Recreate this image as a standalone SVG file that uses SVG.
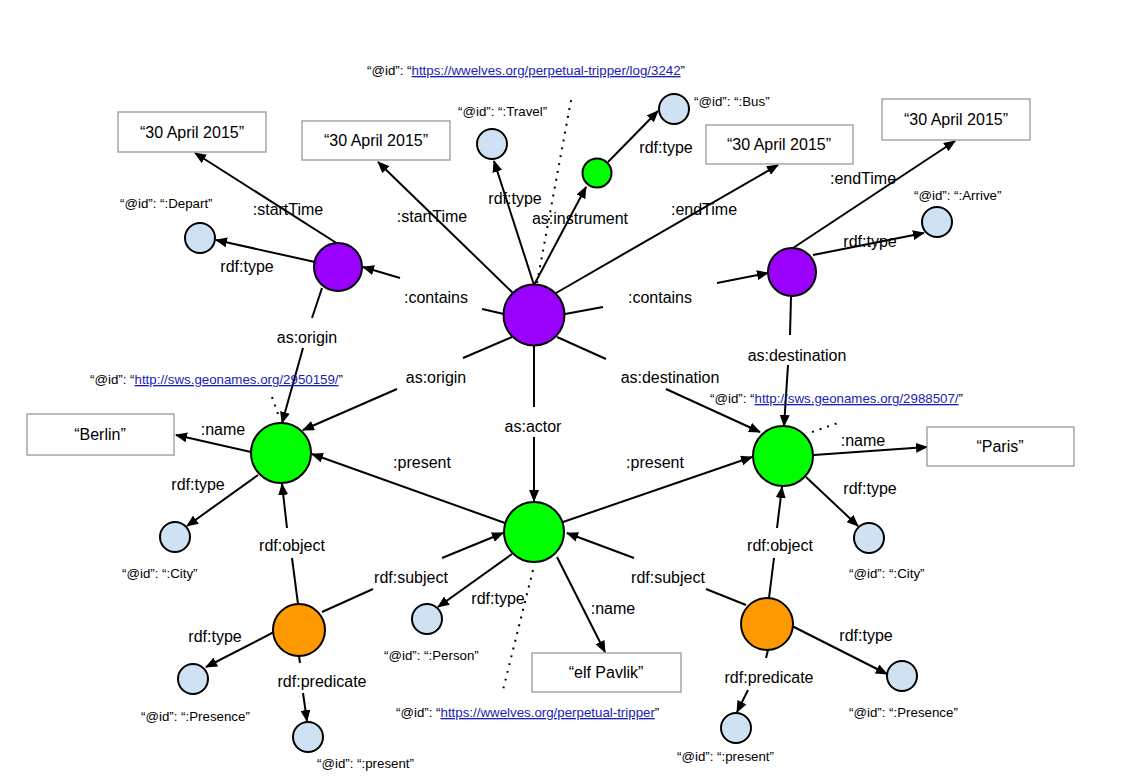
<svg xmlns="http://www.w3.org/2000/svg" width="1138" height="780" viewBox="0 0 1138 780">
<style>
text{font-family:"Liberation Sans",Arial,sans-serif;fill:#000}
.lbl{font-size:16px;text-anchor:middle}
.id{font-size:13.3px}
.box text{font-size:16px;text-anchor:middle}
.link{fill:#1a22b4;text-decoration:underline}
.e{stroke:#000;stroke-width:2;fill:none}
.a{marker-end:url(#arr)}
.dot{stroke:#000;stroke-width:2;stroke-dasharray:2 6;fill:none}
.box rect{fill:#fff;stroke:#999;stroke-width:1.3}
.n{stroke:#000;stroke-width:2}
.pur{fill:#9900ff}.grn{fill:#00ff00}.org{fill:#ff9900}.lb{fill:#cfe2f3}
</style>
<defs>
<marker id="arr" viewBox="0 0 12 10" markerWidth="12" markerHeight="10" markerUnits="userSpaceOnUse" refX="11" refY="5" orient="auto">
<path d="M0,0 L12,5 L0,10 z" fill="#000"/>
</marker>
</defs>
<g id="connectors">
<line class="dot" x1="537" y1="283" x2="572" y2="95"/>
<line class="dot" x1="533" y1="570" x2="503" y2="690"/>
<line class="dot" x1="272" y1="397" x2="278" y2="414"/>
<line class="dot" x1="812" y1="432" x2="838" y2="423"/>
<g><line class="e a" x1="338" y1="244" x2="195" y2="153"/><text class="lbl" x="288" y="215">:startTime</text></g>
<g><line class="e a" x1="315" y1="262" x2="216" y2="240"/><text class="lbl" x="247" y="272">rdf:type</text></g>
<g><line class="e" x1="322" y1="288" x2="312" y2="318"/><line class="e a" x1="303" y1="348" x2="282" y2="423"/><text class="lbl" x="307" y="343">as:origin</text></g>
<g><line class="e a" x1="513" y1="293" x2="378" y2="162"/><text class="lbl" x="432" y="222">:startTime</text></g>
<g><line class="e" x1="504" y1="314" x2="482" y2="309"/><line class="e a" x1="400" y1="278" x2="363" y2="267"/><text class="lbl" x="436" y="303">:contains</text></g>
<g><line class="e a" x1="534" y1="285" x2="494" y2="161"/><text class="lbl" x="515" y="204">rdf:type</text></g>
<g><line class="e a" x1="534" y1="285" x2="586" y2="187"/><text class="lbl" x="580" y="224">as:instrument</text></g>
<g><line class="e a" x1="556" y1="293" x2="778" y2="165"/><text class="lbl" x="704" y="215">:endTime</text></g>
<g><line class="e" x1="565" y1="314" x2="603" y2="307"/><line class="e a" x1="717" y1="283" x2="768" y2="273"/><text class="lbl" x="660" y="303">:contains</text></g>
<g><line class="e" x1="512" y1="337" x2="463" y2="358"/><line class="e a" x1="397" y1="389" x2="303" y2="430"/><text class="lbl" x="436" y="383">as:origin</text></g>
<g><line class="e" x1="557" y1="337" x2="606" y2="359"/><line class="e a" x1="666" y1="389" x2="760" y2="432"/><text class="lbl" x="670" y="383">as:destination</text></g>
<g><line class="e" x1="534" y1="346" x2="534" y2="407"/><line class="e a" x1="534" y1="437" x2="534" y2="501"/><text class="lbl" x="533" y="432">as:actor</text></g>
<g><line class="e a" x1="608" y1="162" x2="658" y2="111"/><text class="lbl" x="666" y="153">rdf:type</text></g>
<g><line class="e a" x1="793" y1="248" x2="955" y2="141"/><text class="lbl" x="863" y="184">:endTime</text></g>
<g><line class="e a" x1="813" y1="255" x2="924" y2="233"/><text class="lbl" x="870" y="247">rdf:type</text></g>
<g><line class="e" x1="791" y1="297" x2="790" y2="335"/><line class="e a" x1="788" y1="365" x2="784" y2="426"/><text class="lbl" x="797" y="361">as:destination</text></g>
<g><line class="e a" x1="251" y1="452" x2="176" y2="435"/><text class="lbl" x="223" y="435">:name</text></g>
<g><line class="e a" x1="258" y1="475" x2="187" y2="526"/><text class="lbl" x="198" y="490">rdf:type</text></g>
<g><line class="e a" x1="814" y1="455" x2="927" y2="447"/><text class="lbl" x="863" y="446">:name</text></g>
<g><line class="e a" x1="806" y1="477" x2="858" y2="526"/><text class="lbl" x="870" y="494">rdf:type</text></g>
<g><line class="e a" x1="505" y1="523" x2="312" y2="454"/><text class="lbl" x="422" y="468">:present</text></g>
<g><line class="e a" x1="563" y1="522" x2="752" y2="457"/><text class="lbl" x="655" y="468">:present</text></g>
<g><line class="e a" x1="512" y1="554" x2="438" y2="607"/><text class="lbl" x="498" y="604">rdf:type</text></g>
<g><line class="e a" x1="557" y1="557" x2="605" y2="652"/><text class="lbl" x="613" y="614">:name</text></g>
<g><line class="e" x1="298" y1="604" x2="292" y2="558"/><line class="e a" x1="287" y1="528" x2="282" y2="484"/><text class="lbl" x="292" y="551">rdf:object</text></g>
<g><line class="e" x1="322" y1="612" x2="373" y2="589"/><line class="e a" x1="442" y1="558" x2="503" y2="533"/><text class="lbl" x="411" y="583">rdf:subject</text></g>
<g><line class="e a" x1="274" y1="632" x2="206" y2="667"/><text class="lbl" x="215" y="642">rdf:type</text></g>
<g><line class="e" x1="299" y1="656" x2="300" y2="663"/><line class="e a" x1="303" y1="693" x2="307" y2="721"/><text class="lbl" x="322" y="687">rdf:predicate</text></g>
<g><line class="e" x1="769" y1="598" x2="774" y2="558"/><line class="e a" x1="777" y1="528" x2="782" y2="487"/><text class="lbl" x="780" y="551">rdf:object</text></g>
<g><line class="e" x1="746" y1="605" x2="706" y2="589"/><line class="e a" x1="634" y1="558" x2="567" y2="533"/><text class="lbl" x="668" y="583">rdf:subject</text></g>
<g><line class="e a" x1="792" y1="626" x2="887" y2="674"/><text class="lbl" x="866" y="641">rdf:type</text></g>
<g><line class="e" x1="768" y1="650" x2="766" y2="658"/><line class="e a" x1="748" y1="690" x2="737" y2="712"/><text class="lbl" x="769" y="683">rdf:predicate</text></g>
</g>
<g id="activity"><circle class="n pur" cx="534" cy="315" r="30.5"/><text class="id" x="367" y="75">“@id”: “<tspan class="link">https://wwelves.org/perpetual-tripper/log/3242</tspan>”</text></g>
<g id="depart"><circle class="n pur" cx="338" cy="267" r="24"/></g>
<g id="arrive"><circle class="n pur" cx="792" cy="272" r="24"/></g>
<g id="instrument"><circle class="n grn" cx="597" cy="173" r="14.5"/></g>
<g id="berlin"><circle class="n grn" cx="281" cy="453" r="30"/><text class="id" x="90" y="384">“@id”: “<tspan class="link">http://sws.geonames.org/2950159/</tspan>”</text></g>
<g id="paris"><circle class="n grn" cx="783" cy="456" r="30"/><text class="id" x="710" y="403">“@id”: “<tspan class="link">http://sws.geonames.org/2988507/</tspan>”</text></g>
<g id="actor"><circle class="n grn" cx="534" cy="532" r="30"/><text class="id" x="396" y="717">“@id”: “<tspan class="link">https://wwelves.org/perpetual-tripper</tspan>”</text></g>
<g id="presence-left"><circle class="n org" cx="299" cy="630" r="26"/></g>
<g id="presence-right"><circle class="n org" cx="767" cy="624" r="26"/></g>
<g id="type-depart"><circle class="n lb" cx="200" cy="238" r="15"/><text class="id" x="120" y="208">“@id”: “:Depart”</text></g>
<g id="type-travel"><circle class="n lb" cx="492" cy="144" r="15"/><text class="id" x="458" y="116">“@id”: “:Travel”</text></g>
<g id="type-bus"><circle class="n lb" cx="674" cy="109" r="15"/><text class="id" x="694" y="106">“@id”: “:Bus”</text></g>
<g id="type-arrive"><circle class="n lb" cx="937" cy="222" r="15"/><text class="id" x="914" y="200">“@id”: “:Arrive”</text></g>
<g id="type-city-left"><circle class="n lb" cx="175" cy="537" r="15"/><text class="id" x="122" y="578">“@id”: “:City”</text></g>
<g id="type-city-right"><circle class="n lb" cx="869" cy="538" r="15"/><text class="id" x="849" y="578">“@id”: “:City”</text></g>
<g id="type-person"><circle class="n lb" cx="427" cy="619" r="15"/><text class="id" x="384" y="660">“@id”: “:Person”</text></g>
<g id="type-presence-left"><circle class="n lb" cx="193" cy="679" r="15"/><text class="id" x="141" y="721">“@id”: “:Presence”</text></g>
<g id="pred-present-left"><circle class="n lb" cx="308" cy="737" r="15"/><text class="id" x="317" y="768">“@id”: “:present”</text></g>
<g id="type-presence-right"><circle class="n lb" cx="902" cy="676" r="15"/><text class="id" x="849" y="717">“@id”: “:Presence”</text></g>
<g id="pred-present-right"><circle class="n lb" cx="736" cy="728" r="15"/><text class="id" x="677" y="761">“@id”: “:present”</text></g>
<g id="start-depart" class="box"><rect x="118" y="112" width="148" height="40"/><text x="192" y="138">“30 April 2015”</text></g>
<g id="start-activity" class="box"><rect x="302" y="121" width="148" height="39"/><text x="376" y="146">“30 April 2015”</text></g>
<g id="end-activity" class="box"><rect x="706" y="125" width="147" height="39"/><text x="779" y="150">“30 April 2015”</text></g>
<g id="end-arrive" class="box"><rect x="882" y="99" width="148" height="41"/><text x="956" y="125">“30 April 2015”</text></g>
<g id="name-berlin" class="box"><rect x="27" y="414" width="147" height="41"/><text x="100" y="440">“Berlin”</text></g>
<g id="name-paris" class="box"><rect x="927" y="427" width="147" height="39"/><text x="1000" y="452">“Paris”</text></g>
<g id="name-actor" class="box"><rect x="532" y="653" width="149" height="39"/><text x="606" y="678">“elf Pavlik”</text></g>
</svg>
